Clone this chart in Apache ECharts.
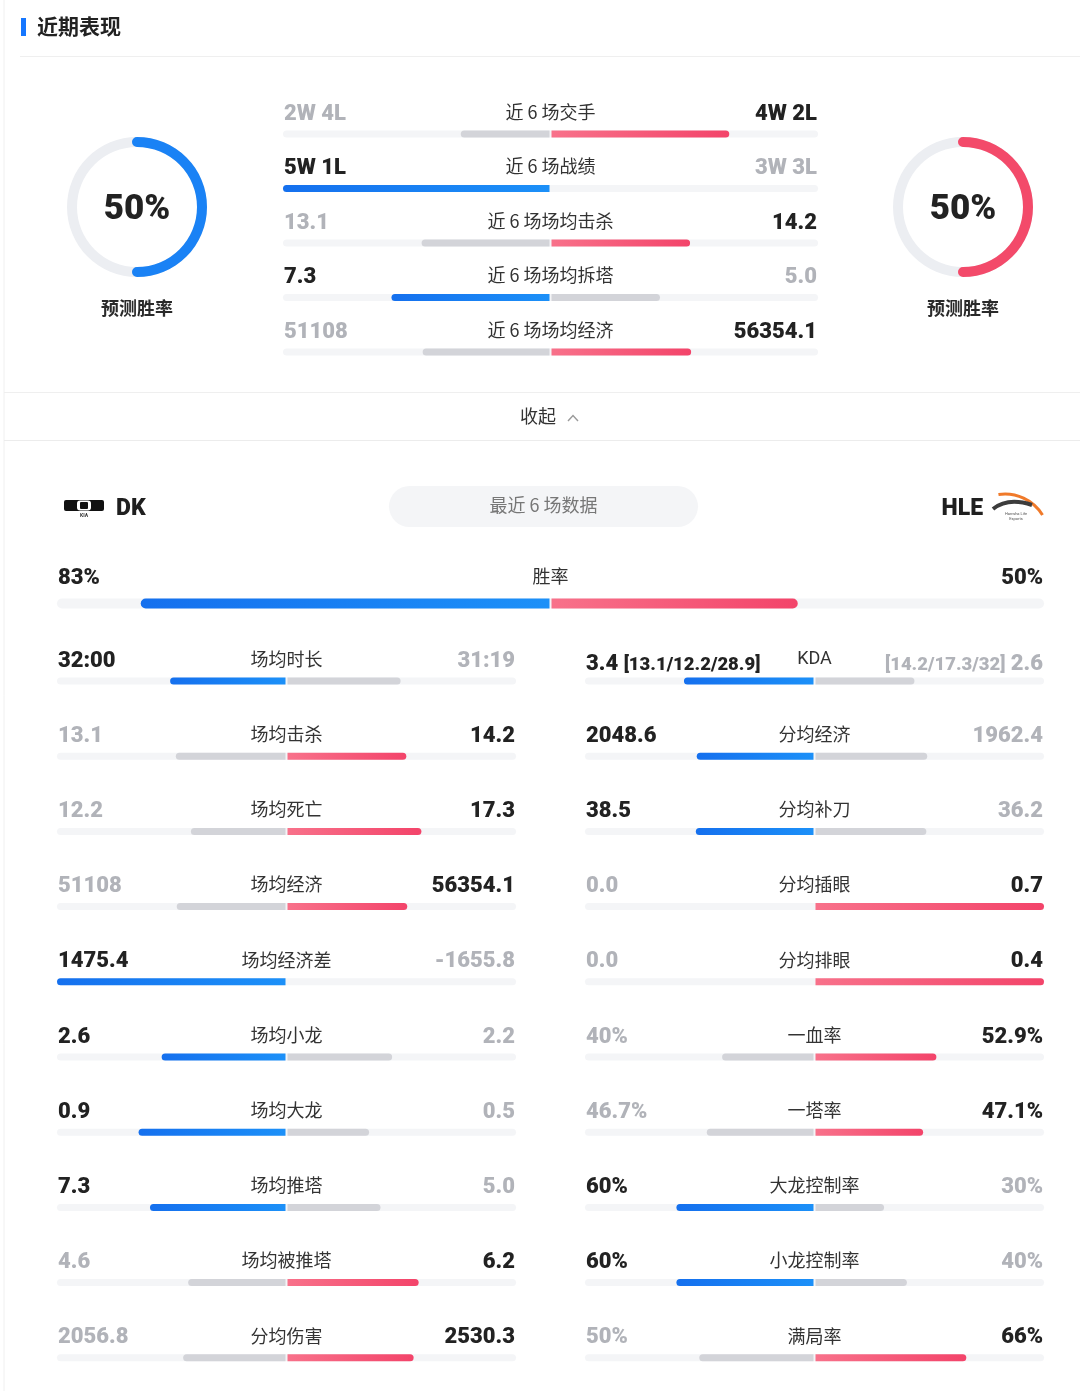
<!DOCTYPE html>
<html>
<head>
<meta charset="utf-8">
<script src="https://cdn.jsdelivr.net/npm/echarts@6/dist/echarts.min.js"></script>
<style>
  html, body { margin: 0; padding: 0; background: #fff; }
  #main { width: 1080px; height: 1391px; }
</style>
</head>
<body>
<div id="main"></div>
<script>
// predicted win rate, DK / HLE
var predictRate = [50, 50];

// recent 6 games (top block)
var topLabels = ["近 6 场交手", "近 6 场战绩", "近 6 场场均击杀", "近 6 场场均拆塔", "近 6 场场均经济"];
var topLeft = ["2W 4L", "5W 1L", "13.1", "7.3", "51108"];
var topRight = ["4W 2L", "3W 3L", "14.2", "5.0", "56354.1"];
var topLeftShare = [0.333, 1.0, 0.48, 0.593, 0.476];
var topRightShare = [0.667, 0, 0.52, 0.407, 0.524];

// win rate row
var teams = ["DK", "HLE"];
var winText = ["83%", "50%"];
var winShare = [0.83, 0.5];

// left column
var leftLabels = ["场均时长", "场均击杀", "场均死亡", "场均经济", "场均经济差", "场均小龙", "场均大龙", "场均推塔", "场均被推塔", "分均伤害"];
var leftA = ["32:00", "13.1", "12.2", "51108", "1475.4", "2.6", "0.9", "7.3", "4.6", "2056.8"];
var leftB = ["31:19", "14.2", "17.3", "56354.1", "-1655.8", "2.2", "0.5", "5.0", "6.2", "2530.3"];
var leftShareA = [0.505, 0.48, 0.414, 0.476, 1.0, 0.542, 0.643, 0.593, 0.426, 0.448];
var leftShareB = [0.495, 0.52, 0.586, 0.524, 0, 0.458, 0.357, 0.407, 0.574, 0.552];

// right column
var rightLabels = ["KDA", "分均经济", "分均补刀", "分均插眼", "分均排眼", "一血率", "一塔率", "大龙控制率", "小龙控制率", "满局率"];
var rightA = ["3.4", "2048.6", "38.5", "0.0", "0.0", "40%", "46.7%", "60%", "60%", "50%"];
var rightB = ["2.6", "1962.4", "36.2", "0.7", "0.4", "52.9%", "47.1%", "30%", "40%", "66%"];
var rightShareA = [0.567, 0.511, 0.515, 0, 0, 0.40, 0.467, 0.60, 0.60, 0.50];
var rightShareB = [0.433, 0.489, 0.485, 1.0, 1.0, 0.529, 0.471, 0.30, 0.40, 0.66];
var kdaDetail = ["[13.1/12.2/28.9]", "[14.2/17.3/32]"];

var NUM = 'Roboto, "Noto Sans", sans-serif';
var CJK = '"Noto Sans CJK SC", sans-serif';
var NUMW = "900";
var DARK = "#222222", GRAY = "#b1b3b9", LABEL = "#333333";
var TRACK = "#f4f5f7", LOSE = "#d3d4d9";

function grad(c1, c2) {
  return new echarts.graphic.LinearGradient(0, 0, 1, 0, [{ offset: 0, color: c1 }, { offset: 1, color: c2 }]);
}
var BLUE = grad("#1570ee", "#1c90f8");
var RED = grad("#f8718a", "#f3446a");

var grids = [], xAxes = [], yAxes = [], series = [], graphics = [];

function txt(x, y, text, size, color, weight, family, align) {
  graphics.push({
    type: "text", x: x, y: y, silent: true, z: 10,
    style: { text: text, fill: color, fontSize: size, fontWeight: weight || "normal",
      fontFamily: family, align: align || "left", verticalAlign: "middle" }
  });
}

// both = true colours both sides (used by the win-rate bar)
function addBar(cx, half, y, h, sA, sB, both) {
  var i = grids.length;
  var g = 1 / half, r = h / 2;
  grids.push({ left: cx - half - 1, width: half * 2 + 2, top: y - h / 2, height: h });
  xAxes.push({ gridIndex: i, type: "value", min: -1 - g, max: 1 + g, show: false });
  yAxes.push({ gridIndex: i, type: "category", data: [""], show: false });
  var base = { type: "bar", xAxisIndex: i, yAxisIndex: i, stack: "row" + i, barWidth: h, silent: true };
  series.push(Object.assign({}, base, { data: [-g], itemStyle: { color: "transparent" },
    showBackground: true, backgroundStyle: { color: TRACK, borderRadius: r } }));
  series.push(Object.assign({}, base, { data: [-sA],
    itemStyle: { color: (both || sA > sB) ? BLUE : LOSE, borderRadius: [r, 0, 0, r] } }));
  series.push(Object.assign({}, base, { data: [g], itemStyle: { color: "transparent" } }));
  series.push(Object.assign({}, base, { data: [sB],
    itemStyle: { color: (both || sB > sA) ? RED : LOSE, borderRadius: [0, r, r, 0] } }));
}

function addRow(cx, half, ty, by, h, label, a, b, sA, sB) {
  txt(cx - half, ty + 1, a, 22, sA > sB ? DARK : GRAY, NUMW, NUM, "left");
  txt(cx, ty - 1, label, 18, LABEL, "normal", CJK, "center");
  txt(cx + half, ty + 1, b, 22, sB > sA ? DARK : GRAY, NUMW, NUM, "right");
  addBar(cx, half, by, h, sA, sB);
}

function gauge(cx, val, color) {
  series.push({
    type: "gauge", center: [cx, 207], radius: 70, startAngle: 90, endAngle: -270,
    min: 0, max: 100, silent: true,
    axisLine: { lineStyle: { width: 10, color: [[1, "#eceef2"]] } },
    progress: { show: true, width: 10, roundCap: true, itemStyle: { color: color } },
    pointer: { show: false }, axisTick: { show: false }, splitLine: { show: false },
    axisLabel: { show: false }, title: { show: false },
    detail: { show: true, offsetCenter: [0, 3], formatter: "{value}%", fontSize: 35,
      fontWeight: NUMW, fontFamily: NUM, color: "#222" },
    data: [{ value: val }]
  });
}

// frame, header, separators
graphics.push({ type: "line", silent: true, shape: { x1: 4, y1: 0, x2: 4, y2: 1391 }, style: { stroke: "#f0f0f0", lineWidth: 1 } });
graphics.push({ type: "rect", silent: true, shape: { x: 21, y: 18, width: 5, height: 18 }, style: { fill: "#1677ff" } });
txt(37, 26, "近期表现", 21, "#222", "bold", CJK, "left");
graphics.push({ type: "line", silent: true, shape: { x1: 20, y1: 56.5, x2: 1080, y2: 56.5 }, style: { stroke: "#efefef", lineWidth: 1 } });
graphics.push({ type: "line", silent: true, shape: { x1: 4, y1: 392.5, x2: 1080, y2: 392.5 }, style: { stroke: "#efefef", lineWidth: 1 } });
graphics.push({ type: "line", silent: true, shape: { x1: 4, y1: 440.5, x2: 1080, y2: 440.5 }, style: { stroke: "#ececec", lineWidth: 1 } });
txt(538, 416, "收起", 18, LABEL, "normal", CJK, "center");
graphics.push({ type: "polyline", silent: true, shape: { points: [[568, 421], [573, 415.5], [578, 421]] }, style: { stroke: "#9a9a9a", lineWidth: 1.4, fill: null } });

// gauges
gauge(137, predictRate[0], "#1a82f5");
gauge(963, predictRate[1], "#f34a6a");
txt(137, 308, "预测胜率", 18, "#2a2a2a", "bold", CJK, "center");
txt(963, 308, "预测胜率", 18, "#2a2a2a", "bold", CJK, "center");

// top block
for (var k = 0; k < topLabels.length; k++) {
  addRow(550.5, 266.5, 113 + k * 54.5, 134 + k * 54.5, 7, topLabels[k], topLeft[k], topRight[k], topLeftShare[k], topRightShare[k]);
}

// team header
graphics.push({ type: "rect", silent: true, shape: { x: 389, y: 486, width: 309, height: 41, r: 20.5 }, style: { fill: "#f4f5f7" } });
txt(543.5, 505, "最近 6 场数据", 18, "#777", "normal", CJK, "center");
graphics.push({ type: "rect", silent: true, shape: { x: 64, y: 500, width: 40, height: 11, r: 2 }, style: { fill: "#111" } });
graphics.push({ type: "rect", silent: true, shape: { x: 77, y: 500.5, width: 14, height: 10, r: 3 }, style: { fill: "#fff" } });
graphics.push({ type: "rect", silent: true, shape: { x: 80, y: 502, width: 8, height: 7, r: 1 }, style: { fill: "#111" } });
txt(84, 516, "KIA", 5, "#333", "bold", NUM, "center");
txt(116, 509, teams[0], 23, "#1f1f1f", NUMW, NUM, "left");
txt(983, 509, teams[1], 23, "#1f1f1f", NUMW, NUM, "right");
graphics.push({ type: "arc", silent: true, shape: { cx: 1005, cy: 538, r: 44, startAngle: -1.72, endAngle: -0.55 }, style: { stroke: "#f07a2a", lineWidth: 3, fill: null } });
graphics.push({ type: "bezierCurve", silent: true, shape: { x1: 993, y1: 509, cpx1: 1008, cpy1: 497, x2: 1032, y2: 505 }, style: { stroke: "#3c3c3c", lineWidth: 4, fill: null } });
txt(1016, 514, "Hanwha Life", 4, "#555", "normal", NUM, "center");
txt(1016, 519, "Esports", 4, "#555", "normal", NUM, "center");

// win rate
txt(58, 578, winText[0], 22, DARK, NUMW, NUM, "left");
txt(550.5, 576, "胜率", 18, LABEL, "normal", CJK, "center");
txt(1043, 578, winText[1], 22, DARK, NUMW, NUM, "right");
addBar(550.5, 492.5, 603.5, 10, winShare[0], winShare[1], true);

// left column
for (var m = 0; m < leftLabels.length; m++) {
  addRow(286.5, 228.5, 660 + m * 75.2, 681 + m * 75.2, 7, leftLabels[m], leftA[m], leftB[m], leftShareA[m], leftShareB[m]);
}

// right column (KDA row has extra detail text)
for (var n = 0; n < rightLabels.length; n++) {
  var ty = 660 + n * 75.2, by = 681 + n * 75.2;
  if (n === 0) {
    var rich = { a: { fontSize: 22, fontWeight: NUMW, fontFamily: NUM, verticalAlign: "bottom", lineHeight: 26 },
                 b: { fontSize: 18.5, fontWeight: NUMW, fontFamily: NUM, verticalAlign: "bottom", lineHeight: 25 } };
    var colA = rightShareA[n] > rightShareB[n] ? DARK : GRAY;
    var colB = rightShareB[n] > rightShareA[n] ? DARK : GRAY;
    graphics.push({ type: "text", x: 586, y: ty + 2, silent: true, z: 10,
      style: { text: "{a|" + rightA[n] + " }{b|" + kdaDetail[0] + "}", fill: colA, align: "left", verticalAlign: "middle", rich: rich } });
    graphics.push({ type: "text", x: 1043, y: ty + 2, silent: true, z: 10,
      style: { text: "{b|" + kdaDetail[1] + "}{a| " + rightB[n] + "}", fill: colB, align: "right", verticalAlign: "middle", rich: rich } });
    txt(814.5, ty - 1, rightLabels[n], 18, LABEL, "normal", NUM, "center");
    addBar(814.5, 228.5, by, 7, rightShareA[n], rightShareB[n]);
  } else {
    addRow(814.5, 228.5, ty, by, 7, rightLabels[n], rightA[n], rightB[n], rightShareA[n], rightShareB[n]);
  }
}

var chart = echarts.init(document.getElementById("main"));
chart.setOption({
  animation: false,
  backgroundColor: "#ffffff",
  grid: grids,
  xAxis: xAxes,
  yAxis: yAxes,
  series: series,
  graphic: graphics
});
</script>
</body>
</html>
